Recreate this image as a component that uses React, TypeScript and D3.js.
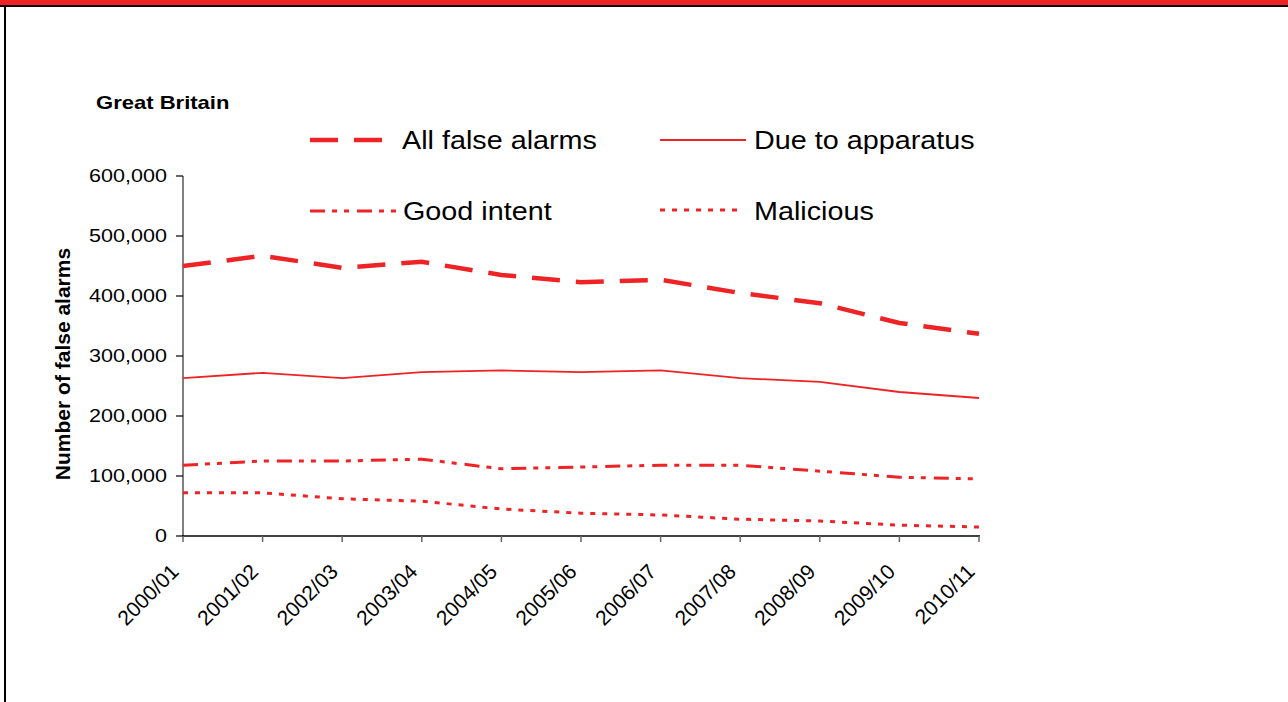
import React from "react";
import * as d3 from "d3";

const years = ["2000/01","2001/02","2002/03","2003/04","2004/05","2005/06","2006/07","2007/08","2008/09","2009/10","2010/11"];
const allFalse = [450000, 467000, 447000, 457000, 435000, 423000, 427000, 405000, 388000, 355000, 337000];
const apparatus = [263000, 272000, 263000, 273000, 276000, 273000, 276000, 263000, 257000, 240000, 230000];
const goodIntent = [118000, 125000, 125000, 128000, 112000, 115000, 118000, 118000, 108000, 98000, 95000];
const malicious = [72000, 72000, 62000, 58000, 45000, 38000, 35000, 28000, 25000, 18000, 15000];
const yTicks = [0, 100000, 200000, 300000, 400000, 500000, 600000];

const RED = "#EE2326";
const FONT = "'Liberation Sans', Arial, sans-serif";

const seriesDefs = [
  { name: "All false alarms", values: allFalse, width: 4.5, dash: "28,16" },
  { name: "Due to apparatus", values: apparatus, width: 1.8, dash: "" },
  { name: "Good intent", values: goodIntent, width: 3, dash: "15,7,5,7,5,8" },
  { name: "Malicious", values: malicious, width: 3, dash: "5,7" },
];

const legendPos = [
  { x1: 310, x2: 383, y: 140, tx: 402, ty: 149 },
  { x1: 660, x2: 746, y: 140, tx: 754, ty: 149 },
  { x1: 310, x2: 396, y: 211, tx: 403, ty: 220 },
  { x1: 660, x2: 738, y: 210, tx: 754, ty: 220 },
];

export default function App() {
  const x = d3.scalePoint<string>().domain(years).range([183, 979]);
  const y = d3.scaleLinear().domain([0, 600000]).range([536, 176]);
  const fmt = d3.format(",");
  const line = d3
    .line<number>()
    .x((_, i) => x(years[i]) as number)
    .y((d) => y(d))
    .curve(d3.curveLinear);

  return (
    <svg
      width={1288}
      height={702}
      style={{ position: "absolute", left: 0, top: 0, background: "#fff" }}
      fontFamily={FONT}
    >
      <rect x={0} y={0} width={1288} height={702} fill="#fff" />
      <rect x={0} y={0} width={1288} height={5} fill={RED} />
      <rect x={0} y={5} width={1288} height={2} fill="#000" />
      <rect x={4} y={5} width={2} height={697} fill="#000" />

      <text x={0} y={0} fontWeight="bold" fontSize={19} transform="translate(96,109) scale(1.16,1)">
        Great Britain
      </text>

      <text
        transform="translate(70,364) rotate(-90)"
        textAnchor="middle"
        fontWeight="bold"
        fontSize={21}
      >
        Number of false alarms
      </text>

      {/* y axis */}
      <line x1={183} x2={183} y1={y(600000)} y2={y(0)} stroke="#808080" strokeWidth={2} />
      {yTicks.map((t) => (
        <g key={t}>
          <line x1={176} x2={183} y1={y(t)} y2={y(t)} stroke="#000" strokeWidth={1.2} />
          <text
            transform={`translate(167,${y(t)}) scale(1.165,1)`}
            textAnchor="end"
            dy="0.35em"
            fontSize={18.5}
          >
            {fmt(t)}
          </text>
        </g>
      ))}

      {/* x axis */}
      <line x1={182} x2={980} y1={y(0)} y2={y(0)} stroke="#000" strokeWidth={1.5} />
      {years.map((yr) => (
        <g key={yr}>
          <line
            x1={x(yr) as number}
            x2={x(yr) as number}
            y1={y(0)}
            y2={y(0) + 6}
            stroke="#666"
            strokeWidth={1.5}
          />
          <text
            transform={`translate(${(x(yr) as number) - 3},573) rotate(-45)`}
            textAnchor="end"
            fontSize={21}
          >
            {yr}
          </text>
        </g>
      ))}

      {/* series */}
      {seriesDefs.map((s) => (
        <path
          key={s.name}
          d={line(s.values) as string}
          fill="none"
          stroke={RED}
          strokeWidth={s.width}
          strokeDasharray={s.dash || undefined}
        />
      ))}

      {/* legend */}
      {seriesDefs.map((s, i) => {
        const p = legendPos[i];
        return (
          <g key={s.name}>
            <line
              x1={p.x1}
              x2={p.x2}
              y1={p.y}
              y2={p.y}
              stroke={RED}
              strokeWidth={s.width}
              strokeDasharray={s.dash || undefined}
            />
            <text transform={`translate(${p.tx},${p.ty}) scale(1.15,1)`} fontSize={25}>
              {s.name}
            </text>
          </g>
        );
      })}
    </svg>
  );
}
